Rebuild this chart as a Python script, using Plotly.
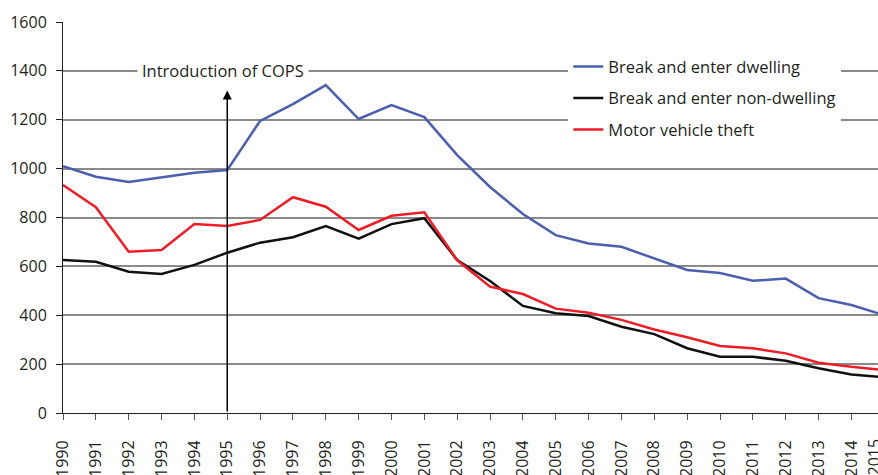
import plotly.graph_objects as go

years = list(range(1990, 2016))
dwelling = [1010, 967, 945, 965, 983, 994, 1195, 1264, 1342, 1203, 1260, 1211, 1055, 925,
            814, 728, 694, 680, 634, 585, 573, 541, 550, 470, 442, 400]
non_dwelling = [626, 619, 578, 569, 606, 656, 697, 719, 765, 713, 773, 797, 626, 540,
                438, 408, 397, 353, 323, 265, 230, 230, 214, 183, 158, 146]
motor = [933, 842, 660, 667, 773, 765, 790, 883, 844, 749, 807, 821, 625, 517,
         487, 427, 410, 381, 342, 310, 274, 265, 244, 206, 189, 176]

names = ["Break and enter dwelling", "Break and enter non-dwelling", "Motor vehicle theft"]
colors = ["#4B5FAE", "#111111", "#EE1C25"]
y_ticks = [0, 200, 400, 600, 800, 1000, 1200, 1400, 1600]
grid_vals = [200, 400, 600, 800, 1000, 1200, 1400]
cops_year = 1995
arrow_top = 1320

FONT = "Open Sans"
TXT = "#231F20"

W, H = 878, 475
ML, MT, MB = 63, 22, 62
px_per_year = 32.85
x_end = 1990 + (W - ML) / px_per_year

fig = go.Figure()
for i, (name, vals, c) in enumerate(zip(names, [dwelling, non_dwelling, motor], colors)):
    fig.add_trace(go.Scatter(x=years, y=vals, mode="lines", name=name, legendgroup=f"g{i}",
                             line=dict(color=c, width=2.5)))

# invisible trace for grid axis
fig.add_trace(go.Scatter(x=[years[0]], y=[0], yaxis="y2", showlegend=False,
                         mode="markers", marker=dict(opacity=0), hoverinfo="skip"))

fig.update_layout(
    width=W, height=H, autosize=False,
    margin=dict(l=ML, r=0, t=MT, b=MB),
    paper_bgcolor="white", plot_bgcolor="white",
    font=dict(family=FONT, size=16, color=TXT),
    xaxis=dict(range=[1990, x_end], tickmode="array", tickvals=years[:-1],
               ticktext=[str(y) for y in years[:-1]], tickangle=-90,
               showgrid=False, showline=True, linecolor=TXT, linewidth=1,
               ticks="outside", ticklen=6, tickcolor="#555", zeroline=False,
               tickfont=dict(size=16), ticklabelstandoff=14, automargin=False),
    yaxis=dict(range=[0, 1600], tickvals=y_ticks, showgrid=False, showline=True,
               linecolor=TXT, linewidth=1, ticks="outside", ticklen=6,
               tickcolor=TXT, zeroline=False, tickfont=dict(size=16),
               ticklabelstandoff=6, automargin=False),
    yaxis2=dict(range=[0, 1600], overlaying="y", tickvals=grid_vals, showgrid=True,
                gridcolor="#8A8A8A", gridwidth=1.5, showticklabels=False,
                showline=False, zeroline=False, layer="below traces", automargin=False),
    legend=dict(x=0.62, y=0.93, xanchor="left", yanchor="top", bgcolor="white",
                font=dict(size=16.5), itemwidth=30, tracegroupgap=7),
    showlegend=True,
)

fig.add_annotation(x=cops_year, y=arrow_top, ax=cops_year, ay=0, xref="x", yref="y",
                   axref="x", ayref="y", text="", showarrow=True, arrowhead=2,
                   arrowsize=1.2, arrowwidth=1.5, arrowcolor="black")
fig.add_annotation(x=1994.86, y=1400, xref="x", yref="y", text="Introduction of COPS",
                   showarrow=False, bgcolor="white", borderpad=4,
                   font=dict(size=16.5, color=TXT))
# last year label, partly cut off at the right edge as in the source
fig.add_annotation(x=0.995, y=0, xref="paper", yref="paper", text=str(years[-1]),
                   textangle=-90, showarrow=False, xanchor="center", yanchor="top",
                   yshift=-23, font=dict(size=16, color=TXT))

fig.write_html(
    "out.html",
    config={"displayModeBar": False},
    post_script="document.body.style.margin='0';document.body.style.overflow='hidden';",
)
